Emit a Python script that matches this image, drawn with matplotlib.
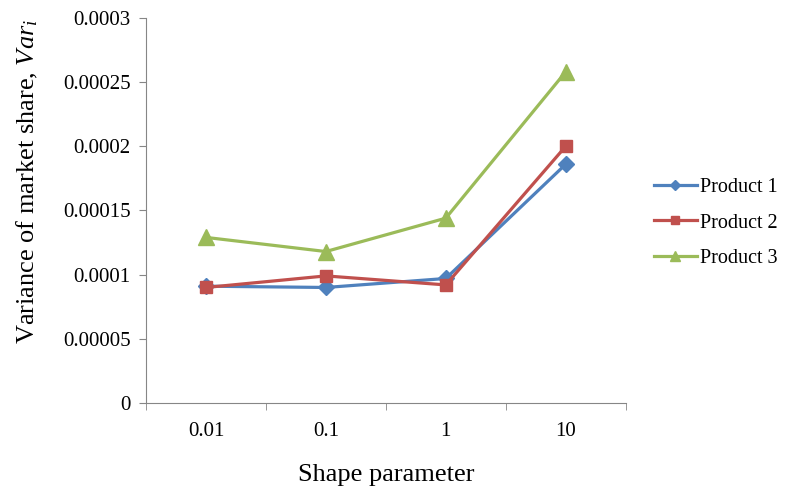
import matplotlib.pyplot as plt
import numpy as np

plt.rcParams['font.family'] = ['Liberation Serif', 'DejaVu Serif']
plt.rcParams['mathtext.fontset'] = 'custom'
plt.rcParams['mathtext.it'] = 'Liberation Serif:italic'
plt.rcParams['mathtext.rm'] = 'Liberation Serif'

shape = ['0.01', '0.1', '1', '10']
product1 = [0.000091, 0.000090, 0.000097, 0.000186]
product2 = [0.000090, 0.000099, 0.000092, 0.000200]
product3 = [0.000129, 0.000118, 0.000144, 0.000258]

fig = plt.figure(figsize=(7.85, 4.93), dpi=100)
ax = fig.add_axes([0.186, 0.1826, 0.611, 0.781])

xs = np.arange(len(shape))
ax.plot(xs, product1, color='#4F81BD', marker='D', markersize=8, lw=2.3, label='Product 1')
ax.plot(xs, product2, color='#C0504D', marker='s', markersize=9, lw=2.3, label='Product 2')
ax.plot(xs, product3, color='#9BBB59', marker='^', markersize=11, lw=2.3, label='Product 3')

ax.set_xlim(-0.5, len(shape) - 0.5)
ax.set_ylim(0, 0.0003)
ax.set_yticks(np.arange(0, 0.00031, 0.00005))
ax.set_yticklabels(['0', '0.00005', '0.0001', '0.00015', '0.0002', '0.00025', '0.0003'])
ax.set_xticks(xs)
ax.set_xticklabels(shape)
ax.set_xticks(np.arange(-0.5, len(shape), 1), minor=True)
ax.tick_params(axis='x', which='major', length=0, pad=14, labelsize=15)
ax.tick_params(axis='x', which='minor', length=5, color='#868686')
ax.tick_params(axis='y', length=5, color='#868686', labelsize=15, pad=6)

for s in ['top', 'right']:
    ax.spines[s].set_visible(False)
for s in ['left', 'bottom']:
    ax.spines[s].set_color('#868686')

ax.set_xlabel('Shape parameter', fontsize=19, labelpad=16)
ax.set_ylabel('Variance of market share, $Var_i$', fontsize=19)
ax.yaxis.set_label_coords(-0.222, 0.575)

ax.legend(loc='center left', bbox_to_anchor=(1.022, 0.4675), frameon=False,
          fontsize=14.5, labelspacing=0.8, handlelength=2.1, handletextpad=0.15,
          markerscale=0.7)

fig.savefig('out.png', dpi=100)
